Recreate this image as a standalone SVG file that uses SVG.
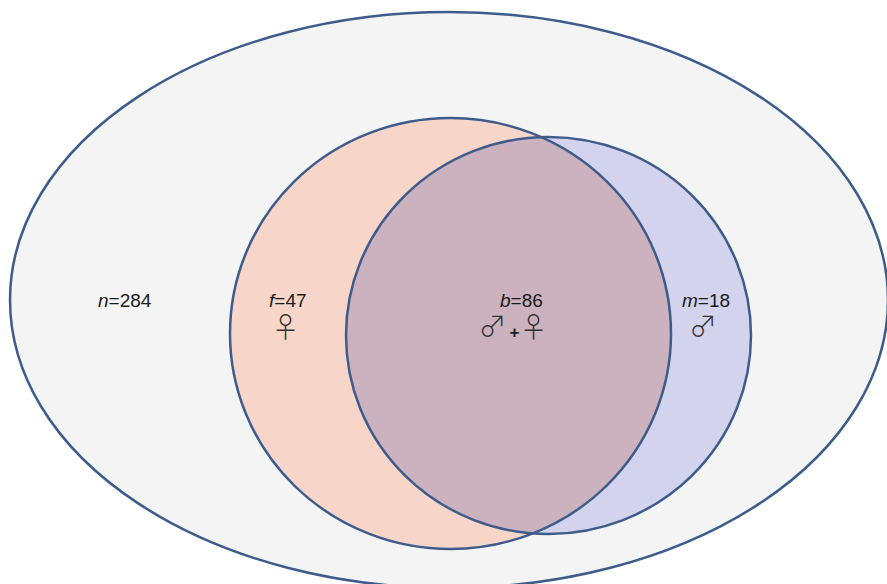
<svg xmlns="http://www.w3.org/2000/svg" width="887" height="584" viewBox="0 0 887 584">
<style>
.edge{stroke:#3d5c8c;stroke-width:2.5}
.lbl{font-family:"Liberation Sans",Arial,sans-serif;font-size:19px;fill:#1a1a1a}
.sym{font-family:"Noto Sans CJK JP","DejaVu Sans",sans-serif;font-size:28px;font-weight:300;fill:#333}
.plus{font-family:"Liberation Sans",Arial,sans-serif;font-size:17px;font-weight:bold;fill:#222}
</style>
<defs>
<clipPath id="fclip"><ellipse cx="450.5" cy="333.5" rx="220.5" ry="215.5"/></clipPath>
</defs>
<rect width="887" height="584" fill="#ffffff"/>
<g id="all">
<ellipse class="edge" cx="449" cy="300" rx="439" ry="288" fill="#f4f4f4"/>
</g>
<g id="female">
<ellipse cx="450.5" cy="333.5" rx="220.5" ry="215.5" fill="#f7d6c9"/>
</g>
<g id="male">
<ellipse cx="548.5" cy="335.5" rx="202.5" ry="198.5" fill="#d3d3ed"/>
</g>
<g id="both">
<ellipse cx="548.5" cy="335.5" rx="202.5" ry="198.5" fill="#cbb2be" clip-path="url(#fclip)"/>
</g>
<g id="connectors">
<ellipse class="edge" cx="450.5" cy="333.5" rx="220.5" ry="215.5" fill="none"/>
<ellipse class="edge" cx="548.5" cy="335.5" rx="202.5" ry="198.5" fill="none"/>
</g>
<g id="labels">
<text class="lbl" x="98" y="307"><tspan font-style="italic">n</tspan>=284</text>
<text class="lbl" x="269" y="307"><tspan font-style="italic">f</tspan>=47</text>
<text class="sym" x="285.5" y="338" text-anchor="middle">♀</text>
<text class="lbl" x="500" y="307"><tspan font-style="italic">b</tspan>=86</text>
<text class="sym" x="492.5" y="337" text-anchor="middle">♂</text>
<text class="plus" x="514.5" y="338" text-anchor="middle">+</text>
<text class="sym" x="533.5" y="338" text-anchor="middle">♀</text>
<text class="lbl" x="682" y="307"><tspan font-style="italic">m</tspan>=18</text>
<text class="sym" x="703" y="337" text-anchor="middle">♂</text>
</g>
</svg>
